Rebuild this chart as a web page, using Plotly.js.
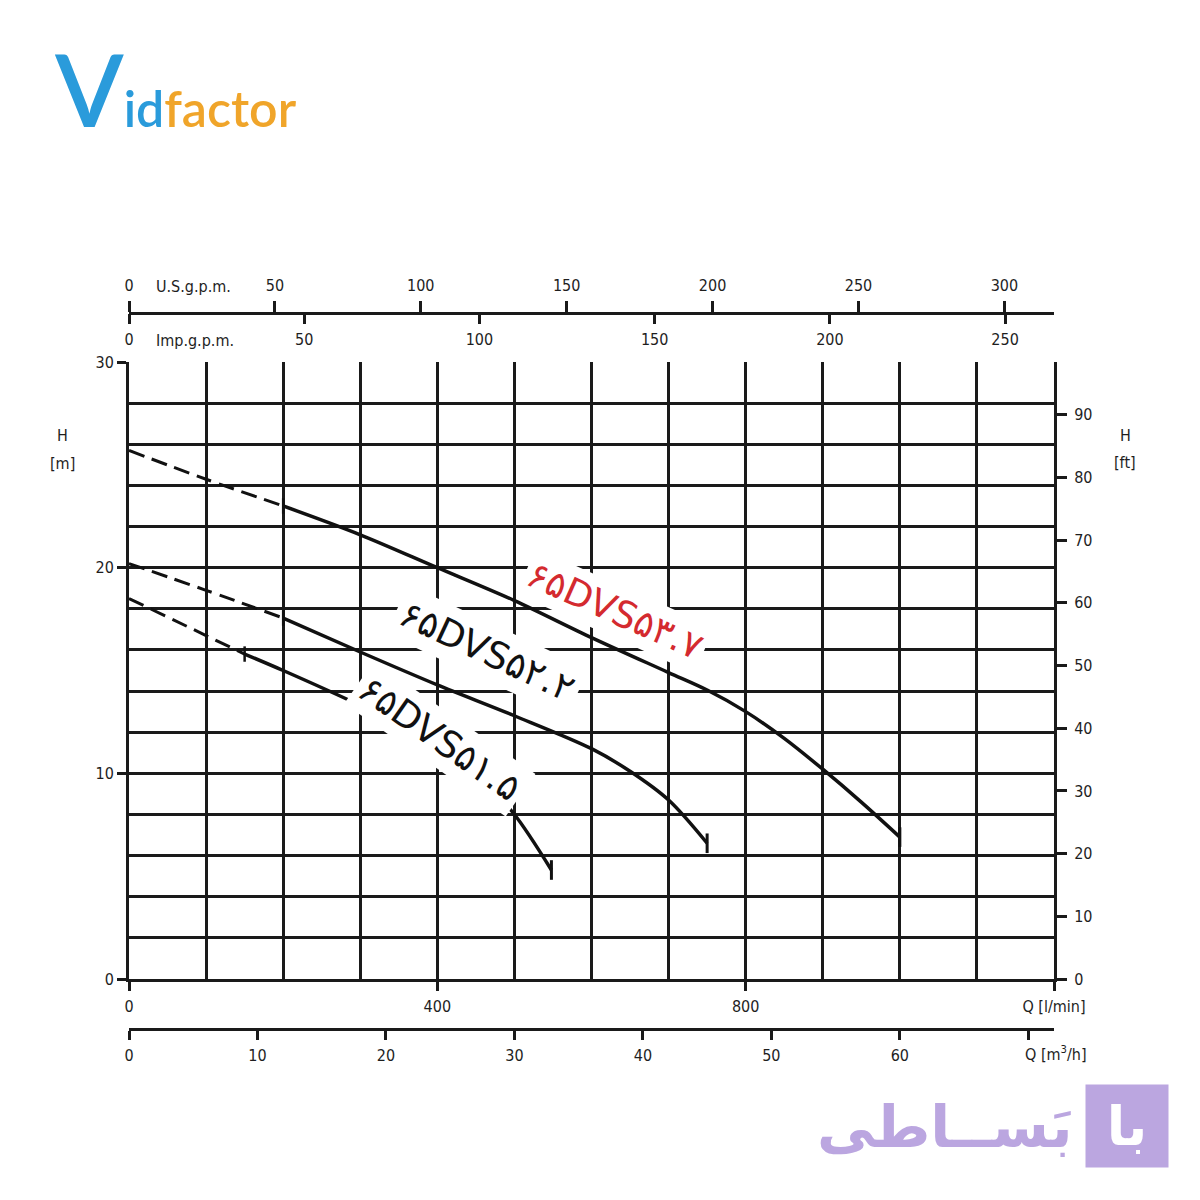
<!DOCTYPE html>
<html>
<head>
<meta charset="utf-8">
<script src="https://cdn.plot.ly/plotly-3.0.1.min.js"></script>
<style>html,body{margin:0;padding:0;background:#fff;}#chart{width:1200px;height:1200px;}</style>
</head>
<body>
<div id="chart"></div>
<script>
// ---- data (Q in l/min, H in m) ----
const q37Dash = [0, 100, 200];
const h37Dash = [25.7, 24.3, 23.0];
const q37 = [200, 300, 400, 500, 600, 700, 750, 800, 850, 900, 950, 1000];
const h37 = [23.0, 21.6, 20.0, 18.4, 16.6, 14.9, 14.05, 13.0, 11.7, 10.2, 8.6, 6.9];

const q22Dash = [0, 100, 200];
const h22Dash = [20.2, 18.9, 17.55];
const q22 = [200, 300, 400, 500, 600, 650, 700, 750];
const h22 = [17.55, 15.9, 14.3, 12.8, 11.2, 10.1, 8.7, 6.6];

const q15Dash = [0, 100, 150];
const h15Dash = [18.5, 16.7, 15.8];
const q15 = [150, 200, 300, 400, 450, 500, 548];
const h15 = [15.8, 15.0, 13.3, 11.4, 10.0, 8.0, 5.3];

const pumpNames = ['۶۵DVS۵۳.۷', '۶۵DVS۵۲.۲', '۶۵DVS۵۱.۵'];

const qLminTicks = [0, 400, 800, 1200];
const qLminLabels = ['0', '400', '800', 'Q [l/min]'];
const hMTicks = [0, 10, 20, 30];
const hFtTicks = [0, 10, 20, 30, 40, 50, 60, 70, 80, 90];
const usGpmTicks = [0, 50, 100, 150, 200, 250, 300];
const impGpmTicks = [0, 50, 100, 150, 200, 250];
const m3hTicks = [0, 10, 20, 30, 40, 50, 60, 70];
const m3hLabels = ['0', '10', '20', '30', '40', '50', '60', ' '];

// unit conversions
const QMAX = 1200, HMAX = 30;
const FT_PER_M = 3.28084, L_PER_USGAL = 3.78541, L_PER_IMPGAL = 4.54609;

const ink = '#1a1a1a';
const fnt = {family: '"Liberation Sans Narrow","DejaVu Sans Condensed","Liberation Sans",sans-serif', size: 16, color: '#1e1e1e'};

function line(x, y, dash, w) {
  return {x: x, y: y, type: 'scatter', mode: 'lines', xaxis: 'x', yaxis: 'y',
    line: {color: '#111', width: w, dash: dash, shape: 'spline', smoothing: 0.9},
    hoverinfo: 'skip', showlegend: false};
}
const last = a => a[a.length - 1];

const traces = [
  line(q37Dash, h37Dash, '16px,8px', 3), line(q37, h37, 'solid', 3.5),
  line(q22Dash, h22Dash, '16px,8px', 3), line(q22, h22, 'solid', 3.5),
  line(q15Dash, h15Dash, '16px,8px', 3), line(q15, h15, 'solid', 3.5),
  // transition marks and end marks
  {x: [q37[0], q22[0], q15[0]], y: [h37[0], h22[0], h15[0]], type: 'scatter', mode: 'markers',
   xaxis: 'x', yaxis: 'y', marker: {symbol: 'line-ns', size: 11, line: {color: '#111', width: 2.5}},
   hoverinfo: 'skip', showlegend: false},
  {x: [last(q37), last(q22), last(q15)], y: [last(h37), last(h22), last(h15)], type: 'scatter', mode: 'markers',
   xaxis: 'x', yaxis: 'y', marker: {symbol: 'line-ns', size: 14, line: {color: '#111', width: 3}},
   hoverinfo: 'skip', showlegend: false},
  // dummy traces to activate extra axes
  {x: [0], y: [0], xaxis: 'x2', yaxis: 'y', mode: 'markers', marker: {opacity: 0}, hoverinfo: 'skip', showlegend: false},
  {x: [0], y: [0], xaxis: 'x3', yaxis: 'y', mode: 'markers', marker: {opacity: 0}, hoverinfo: 'skip', showlegend: false},
  {x: [0], y: [0], xaxis: 'x4', yaxis: 'y', mode: 'markers', marker: {opacity: 0}, hoverinfo: 'skip', showlegend: false},
  {x: [0], y: [0], xaxis: 'x', yaxis: 'y2', mode: 'markers', marker: {opacity: 0}, hoverinfo: 'skip', showlegend: false}
];

// paper: plot area x 129..1054 px, paper y 270..1040 px
const T = 270, B = 160, L = 129, R = 146;
const PH = 1200 - T - B, PW = 1200 - L - R;
const py = Y => (1200 - B - Y) / PH;
const px = X => (X - L) / PW;

const topPos = py(313), botPos = py(1029);

function ann(X, Y, text, extra) {
  return Object.assign({xref: 'paper', yref: 'paper', x: px(X), y: py(Y), text: text, showarrow: false,
    xanchor: 'center', yanchor: 'middle', font: fnt}, extra || {});
}

const layout = {
  width: 1200, height: 1200,
  margin: {l: L, r: R, t: T, b: B, pad: 0},
  paper_bgcolor: '#fff', plot_bgcolor: '#fff',
  font: fnt, showlegend: false, hovermode: false,
  xaxis: {
    range: [0, QMAX], domain: [0, 1], anchor: 'y', side: 'bottom',
    tickmode: 'array', tickvals: qLminTicks, ticktext: qLminLabels,
    ticks: 'outside', ticklen: 9, tickwidth: 3, tickcolor: ink,
    showline: true, linecolor: ink, linewidth: 3,
    showgrid: true, gridcolor: ink, gridwidth: 3, zeroline: false,
    minor: {tickmode: 'linear', tick0: 0, dtick: 100, showgrid: true, gridcolor: ink, gridwidth: 3, ticks: ''},
    tickfont: fnt, ticklabelstandoff: 2, fixedrange: true
  },
  yaxis: {
    range: [0, HMAX], domain: [py(979), py(362)], anchor: 'x',
    tickmode: 'array', tickvals: hMTicks,
    ticks: 'outside', ticklen: 9, tickwidth: 3, tickcolor: ink,
    showline: true, linecolor: ink, linewidth: 3,
    showgrid: true, gridcolor: ink, gridwidth: 3, zeroline: false,
    minor: {tickmode: 'linear', tick0: 0, dtick: 2, showgrid: true, gridcolor: ink, gridwidth: 3, ticks: ''},
    tickfont: fnt, fixedrange: true
  },
  yaxis2: {
    range: [0, HMAX * FT_PER_M], overlaying: 'y', side: 'right', anchor: 'x',
    tickmode: 'array', tickvals: hFtTicks,
    ticks: 'outside', ticklen: 10, tickwidth: 3, tickcolor: ink,
    showline: true, linecolor: ink, linewidth: 3, showgrid: false, zeroline: false,
    tickfont: fnt, ticklabelstandoff: 4, fixedrange: true
  },
  xaxis2: {
    range: [0, QMAX / L_PER_USGAL], overlaying: 'x', anchor: 'free', position: topPos, side: 'top',
    tickmode: 'array', tickvals: usGpmTicks,
    ticks: 'outside', ticklen: 11, tickwidth: 3, tickcolor: ink,
    showline: true, linecolor: ink, linewidth: 3, showgrid: false, zeroline: false,
    tickfont: fnt, ticklabelstandoff: 4, fixedrange: true
  },
  xaxis3: {
    range: [0, QMAX / L_PER_IMPGAL], overlaying: 'x', anchor: 'free', position: topPos, side: 'bottom',
    tickmode: 'array', tickvals: impGpmTicks,
    ticks: 'outside', ticklen: 10, tickwidth: 3, tickcolor: ink,
    showline: false, showgrid: false, zeroline: false,
    tickfont: fnt, ticklabelstandoff: 2, fixedrange: true
  },
  xaxis4: {
    range: [0, QMAX * 60 / 1000], overlaying: 'x', anchor: 'free', position: botPos, side: 'bottom',
    tickmode: 'array', tickvals: m3hTicks, ticktext: m3hLabels,
    ticks: 'outside', ticklen: 9, tickwidth: 3, tickcolor: ink,
    showline: true, linecolor: ink, linewidth: 3, showgrid: false, zeroline: false,
    tickfont: fnt, ticklabelstandoff: 2, fixedrange: true
  },
  annotations: [
    ann(154, 286, 'U.S.g.p.m.', {xanchor: 'left'}),
    ann(154, 340, 'Imp.g.p.m.', {xanchor: 'left'}),
    ann(1056, 1053, 'Q [m<sup>3</sup>/h]'),
    ann(62, 435, 'H'),
    ann(62, 463, '[m]'),
    ann(1125, 435, 'H'),
    ann(1125, 462, '[ft]'),
    // pump labels
    {xref: 'x', yref: 'y', x: 630, y: 17.9, text: pumpNames[0], textangle: 24, showarrow: false,
     bgcolor: '#fff', borderpad: 3, font: {family: '"DejaVu Sans",sans-serif', size: 37, color: '#d42a2f'}},
    {xref: 'x', yref: 'y', x: 465, y: 15.9, text: pumpNames[1], textangle: 25, showarrow: false,
     bgcolor: '#fff', borderpad: 5, font: {family: '"DejaVu Sans",sans-serif', size: 37, color: '#111'}},
    {xref: 'x', yref: 'y', x: 403, y: 11.7, text: pumpNames[2], textangle: 35, showarrow: false,
     bgcolor: '#fff', borderpad: 4, font: {family: '"DejaVu Sans",sans-serif', size: 37, color: '#111'}},
    // logos
    ann(52, 150, '<span style="font-size:100px">V</span>id<span style="color:#f0a52a">factor</span>',
      {xanchor: 'left', yanchor: 'bottom',
       font: {family: 'Lato, "Open Sans", sans-serif', size: 50, color: '#2a9bdb', weight: 600}}),
    ann(945, 1127, 'بَســاطی', {font: {family: '"DejaVu Sans",sans-serif', size: 58, color: '#bba6e0', weight: 700}}),
    ann(1127, 1126, 'با', {width: 78, height: 78, bgcolor: '#bba6e0', borderpad: 2, align: 'center', valign: 'middle',
      font: {family: '"DejaVu Sans",sans-serif', size: 54, color: '#ffffff', weight: 700}})
  ]
};

Plotly.newPlot('chart', traces, layout, {staticPlot: true, displayModeBar: false});
</script>
</body>
</html>
